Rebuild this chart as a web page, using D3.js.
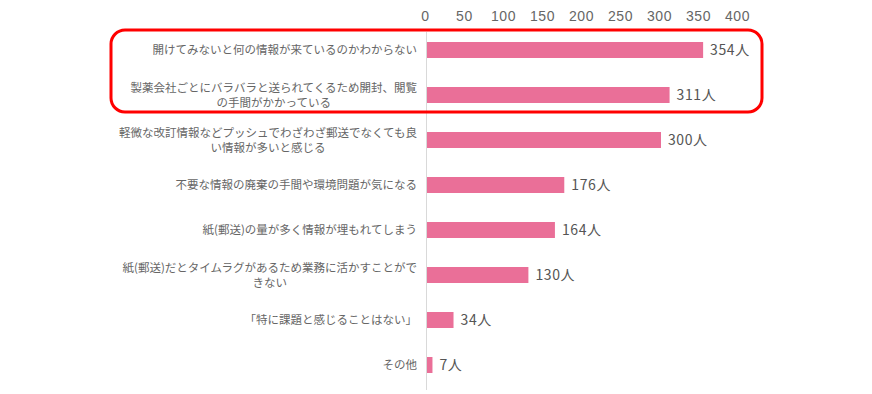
<!DOCTYPE html>
<html>
<head>
<meta charset="utf-8">
<script src="https://cdn.jsdelivr.net/npm/d3@7"></script>
<style>
  body { margin: 0; background: #fff; }
  svg { display: block; font-family: "Noto Sans CJK JP", "Noto Sans", sans-serif; }
</style>
</head>
<body>
<svg id="chart" width="872" height="394"></svg>
<script>
// data
const categories = [
  ['開けてみないと何の情報が来ているのかわからない'],
  ['製薬会社ごとにバラバラと送られてくるため開封、閲覧', 'の手間がかかっている'],
  ['軽微な改訂情報などプッシュでわざわざ郵送でなくても良', 'い情報が多いと感じる'],
  ['不要な情報の廃棄の手間や環境問題が気になる'],
  ['紙(郵送)の量が多く情報が埋もれてしまう'],
  ['紙(郵送)だとタイムラグがあるため業務に活かすことがで', 'きない'],
  ['「特に課題と感じることはない」'],
  ['その他']
];
const counts = [354, 311, 300, 176, 164, 130, 34, 7];
const tickValues = [0, 50, 100, 150, 200, 250, 300, 350, 400];
const unit = '人';
const highlighted = [0, 1];

const svg = d3.select('#chart');
const idx = d3.range(counts.length);

const x = d3.scaleLinear().domain([0, 400]).range([427, 739]);
const y = d3.scaleBand().domain(idx).range([27.5, 387.5])
  .paddingInner(29 / 45).paddingOuter(29 / 90);

// top axis labels only
const axis = svg.append('g')
  .attr('transform', 'translate(-2,21)')
  .call(d3.axisTop(x).tickValues(tickValues).tickSize(0).tickPadding(0));
axis.select('.domain').remove();
axis.selectAll('text')
  .attr('fill', '#666666')
  .style('font-size', '14px')
  .style('letter-spacing', '0.6px');

// vertical baseline
svg.append('line')
  .attr('x1', x(0) - 0.5).attr('x2', x(0) - 0.5)
  .attr('y1', 32).attr('y2', 390)
  .attr('stroke', '#d9d9d9').attr('stroke-width', 1);

// bars
svg.selectAll('rect.bar').data(idx).join('rect')
  .attr('class', 'bar')
  .attr('x', x(0))
  .attr('y', i => y(i))
  .attr('width', i => x(counts[i]) - x(0))
  .attr('height', y.bandwidth())
  .attr('fill', '#ea6f98');

// value labels
svg.selectAll('text.val').data(idx).join('text')
  .attr('class', 'val')
  .attr('x', i => x(counts[i]) + 7)
  .attr('y', i => y(i) + y.bandwidth() / 2)
  .attr('dy', '0.36em')
  .attr('fill', '#555555')
  .style('font-size', '14px')
  .style('letter-spacing', '0.6px')
  .text(i => counts[i] + unit);

// category labels
const labelRight = 417;
const lineH = 15;
idx.forEach(i => {
  const lines = categories[i];
  const cy = y(i) + y.bandwidth() / 2;
  const top = cy - (lines.length - 1) * lineH / 2;
  const first = svg.append('text')
    .attr('x', labelRight)
    .attr('y', top)
    .attr('dy', '0.35em')
    .attr('text-anchor', 'end')
    .attr('fill', '#666666')
    .style('font-size', '11.5px')
    .text(lines[0]);
  if (lines.length > 1) {
    const w = first.node().getComputedTextLength();
    svg.append('text')
      .attr('x', labelRight - w / 2)
      .attr('y', top + lineH)
      .attr('dy', '0.35em')
      .attr('text-anchor', 'middle')
      .attr('fill', '#666666')
      .style('font-size', '11.5px')
      .text(lines[1]);
  }
});

// highlight frame round the first two rows
const hy0 = y(highlighted[0]) - 12;
const hy1 = y(highlighted[highlighted.length - 1]) + y.bandwidth() + 9;
svg.append('rect')
  .attr('x', 111).attr('y', hy0)
  .attr('width', 651).attr('height', hy1 - hy0)
  .attr('rx', 14).attr('ry', 14)
  .attr('fill', 'none')
  .attr('stroke', '#ff0000')
  .attr('stroke-width', 3);
</script>
</body>
</html>
